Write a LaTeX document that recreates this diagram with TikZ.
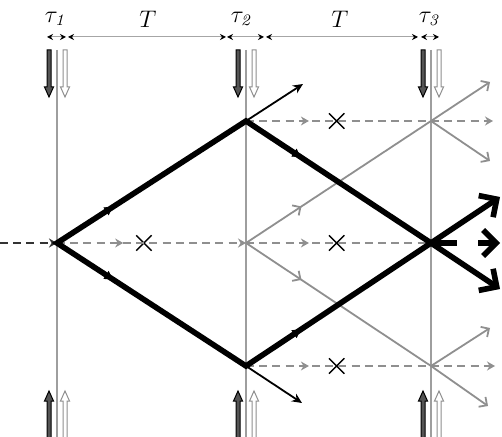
\documentclass[tikz,border=0pt]{standalone}
\usepackage{amsmath}
\usepackage{tikz}
\usetikzlibrary{shapes,arrows,arrows.meta,positioning,calc,decorations.markings}
\definecolor{wallgray}{gray}{0.62}
\definecolor{echogray}{gray}{0.56}
\definecolor{pulsegray}{gray}{0.33}
\tikzset{
tmp/.style = {coordinate},
wall/.style = {draw=wallgray, line width=0.6pt},
ray/.style = {draw=black, line width=2.8pt, line join=miter},
thinray/.style = {draw=black, line width=0.9pt},
echo/.style = {color=echogray, line width=0.9pt},
dashray/.style = {color=echogray, line width=1.1pt, dash pattern=on 4pt off 2.6pt},
indash/.style = {color=black!80, line width=1.1pt, dash pattern=on 4pt off 2.6pt},
dim/.style = {draw=gray!70, line width=0.5pt},
cross/.style = {cross out, draw=black, line width=0.7pt, minimum size=7pt, inner sep=0pt},
tick/.style = {font=\large, inner sep=0pt},
midarrow/.style 2 args = {postaction={decorate}, decoration={markings, mark=at position #1 with {\arrow{#2}}}},
mtip/.tip = {Latex[length=4.5pt,width=5pt]},
gtip/.tip = {Straight Barb[length=3pt,width=6pt]},
dtip/.tip = {Stealth[length=4pt,width=4.5pt]},
btip/.tip = {Stealth[length=5pt,width=4.5pt]},
ttip/.tip = {Straight Barb[length=6.5pt,width=13pt]},
stip/.tip = {Stealth[length=3pt,width=3pt,black]},
pulse/.pic = {\path [pic actions, line width=0.5pt] (-2,0) -- (-2,37) -- (-4.5,37) -- (0,47) -- (4.5,37) -- (2,37) -- (2,0) -- cycle;}
}
\begin{document}
\begin{tikzpicture}[x=0.5pt, y=-0.5pt, >=latex']
    \useasboundingbox (0,0) rectangle (502,437);
    \clip (0,0) rectangle (502,437);
    \node [tmp] (src) at (0,243) {};
    \node [tmp] (L) at (57,243) {};
    \node [tmp] (A) at (246,121) {};
    \node [tmp] (B) at (246,243) {};
    \node [tmp] (C) at (246,366) {};
    \node [tmp] (D) at (431,121) {};
    \node [tmp] (R) at (431,243) {};
    \node [tmp] (E) at (431,366) {};
    \foreach \n/\x in {1/57,2/246,3/431}{
        \node [tmp] (w\n t) at (\x,50) {};
        \node [tmp] (w\n b) at (\x,437) {};
        \draw [wall] (w\n t) -- (w\n b);
        \pic [draw=black, fill=pulsegray] at (\x-8,50) {pulse};
        \pic [draw=echogray, fill=white] at (\x+8,50) {pulse};
        \pic [draw=black, fill=pulsegray, yscale=-1] at (\x-8,438) {pulse};
        \pic [draw=echogray, fill=white, yscale=-1] at (\x+8,438) {pulse};
    }
    \foreach \n/\a/\b in {1/47/66,2/68/226,3/227/264,4/266/418,5/421/439}{
        \node [tmp] (s\n a) at (\a,37) {};
        \node [tmp] (s\n b) at (\b,37) {};
        \draw [dim, stip-stip] (s\n a) -- (s\n b);
    }
    \node [tick] (tau1) at (56,19) {$\tau_{\mathit{1}}$};
    \node [tick] (T1) at (148,19) {$T$};
    \node [tick] (tau2) at (242,19) {$\tau_{\mathit{2}}$};
    \node [tick] (T2) at (340,19) {$T$};
    \node [tick] (tau3) at (430,19) {$\tau_{\mathit{3}}$};
    \node [cross] (x1) at ($(L)!0.46!(B)$) {};
    \node [cross] (x2) at ($(A)!0.49!(D)$) {};
    \node [cross] (x3) at ($(B)!0.49!(R)$) {};
    \node [cross] (x4) at ($(C)!0.49!(E)$) {};
    \node [tmp] (d1) at (493,121) {};
    \node [tmp] (d2) at (495,366) {};
    \node [tmp] (g1) at (490,82) {};
    \node [tmp] (g2) at (490,161) {};
    \node [tmp] (g3) at (490,328) {};
    \node [tmp] (g4) at (488,406) {};
    \node [tmp] (a1) at (303,84) {};
    \node [tmp] (c1) at (302,403) {};
    \node [tmp] (o1) at (500,197) {};
    \node [tmp] (o2) at (500,243) {};
    \node [tmp] (o3) at (500,289) {};
    \draw [indash, -dtip] (src) -- (L);
    \draw [dashray, midarrow={0.35}{dtip}, -dtip] (L) -- (B);
    \draw [dashray, midarrow={0.34}{dtip}] (A) -- (D);
    \draw [dashray, midarrow={0.34}{dtip}] (B) -- (R);
    \draw [dashray, midarrow={0.34}{dtip}] (C) -- (E);
    \draw [dashray, -dtip] (D) -- (d1);
    \draw [dashray, -dtip] (E) -- (d2);
    \draw [echo, midarrow={0.3}{gtip}] (B) -- (D);
    \draw [echo, midarrow={0.3}{gtip}] (B) -- (E);
    \draw [echo, -gtip] (D) -- (g1);
    \draw [echo, -gtip] (D) -- (g2);
    \draw [echo, -gtip] (E) -- (g3);
    \draw [echo, -gtip] (E) -- (g4);
    \draw [thinray, -btip] (A) -- (a1);
    \draw [thinray, -btip] (C) -- (c1);
    \draw [ray] (L) -- (A) -- (R) -- (C) -- cycle;
    \path [midarrow={0.3}{mtip}] (L) -- (A);
    \path [midarrow={0.3}{mtip}] (A) -- (R);
    \path [midarrow={0.3}{mtip}] (L) -- (C);
    \path [midarrow={0.3}{mtip}] (C) -- (R);
    \draw [ray, -ttip] (R) -- (o1);
    \draw [ray, -ttip] (R) -- (o3);
    \draw [ray, dash pattern=on 13pt off 10.5pt, -ttip] (R) -- (o2);
\end{tikzpicture}
\end{document}
